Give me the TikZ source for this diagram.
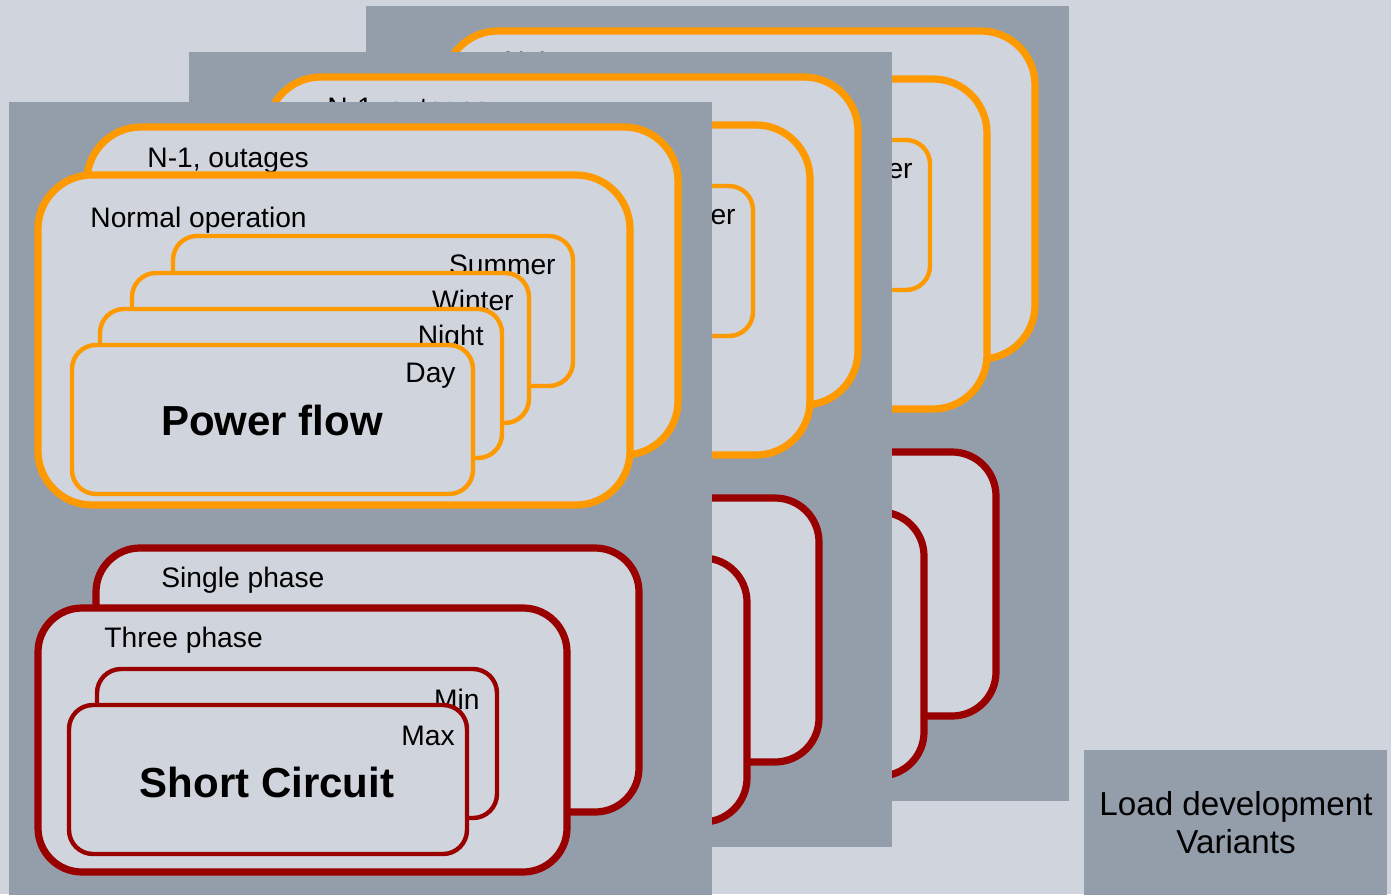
\documentclass[tikz,border=0pt]{standalone}
\usepackage{fontspec}
\setmainfont{Liberation Sans}
\usepackage{tikz}
\usetikzlibrary{positioning}
\definecolor{slbg}{RGB}{208,212,220}
\definecolor{slpanel}{RGB}{148,158,170}
\definecolor{slorange}{RGB}{255,153,0}
\definecolor{slred}{RGB}{153,0,0}

\begin{document}
\begin{tikzpicture}[
      x={(0.5pt,0)}, y={(0,-0.5pt)},
      panel/.style={fill=slpanel},
      bigbox/.style={fill=slbg, line width=3.6pt, rounded corners=27pt},
      redbig/.style={bigbox, draw=slred, rounded corners=22pt},
      smallbox/.style={fill=slbg, line width=2.2pt, rounded corners=12pt},
      lbl/.style={inner sep=0pt, font=\fontsize{14.1}{16}\selectfont},
      caselbl/.style={lbl, anchor=base east},
      grplbl/.style={lbl, anchor=base west},
      title/.style={inner sep=0pt, anchor=base, font=\bfseries\fontsize{21}{24}\selectfont}
    ]
      \fill[slbg] (0,0) rectangle (1391,894);
      \useasboundingbox (0,0) rectangle (1391,894);

      % three variant panels, drawn back to front
      \foreach \p/\dx/\dy in {back/357/-96, mid/180/-50, front/0/0} {
        \begin{scope}[shift={(\dx,\dy)}]
          \fill[panel] (9,102) rectangle (712,897);

          % Power flow stack
          \draw[bigbox, draw=slorange] (87,127) rectangle (678,455);
          \node[grplbl] (n1-\p) at (147,167) {N-1, outages};
          \draw[bigbox, draw=slorange] (38,175) rectangle (630,505);
          \node[grplbl] (normal-\p) at (90,227) {Normal operation};
          \draw[smallbox, draw=slorange] (173,236) rectangle (573,386);
          \node[caselbl] (summer-\p) at (556,274) {Summer};
          \draw[smallbox, draw=slorange] (132,273) rectangle (529,423);
          \node[caselbl] (winter-\p) at (514,310) {Winter};
          \draw[smallbox, draw=slorange] (100,309) rectangle (502,458);
          \node[caselbl] (night-\p) at (484,345) {Night};
          \draw[smallbox, draw=slorange] (72,345) rectangle (473,494);
          \node[caselbl] (day-\p) at (456,382) {Day};
          \node[title] (pf-\p) at (272,435) {Power flow};

          % Short circuit stack
          \draw[redbig] (96,548) rectangle (639,812);
          \node[grplbl] (single-\p) at (161,587) {Single phase};
          \draw[redbig] (38,608) rectangle (567,872);
          \node[grplbl] (three-\p) at (104,647) {Three phase};
          \draw[smallbox, draw=slred] (97,669) rectangle (497,818);
          \node[caselbl] (min-\p) at (480,709) {Min};
          \draw[smallbox, draw=slred] (69,705) rectangle (467,854);
          \node[caselbl] (max-\p) at (455,745) {Max};
          \node[title] (sc-\p) at (267,797) {Short Circuit};
        \end{scope}
      }

      % legend
      \fill[panel] (1084,750) rectangle (1387,897);
      \node[align=center, inner sep=0pt, font=\fontsize{16.6}{19}\selectfont] (legend) at (1236,823)
        {Load development\\Variants};
    \end{tikzpicture}
\end{document}
